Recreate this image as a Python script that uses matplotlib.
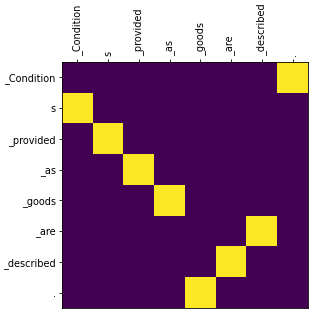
import numpy as np
import matplotlib.pyplot as plt

tokens = ["_Condition", "s", "_provided", "_as", "_goods", "_are", "_described", "."]
# column index of the highlighted cell for each row
hot_cols = [7, 0, 1, 2, 3, 6, 5, 4]

attn = np.zeros((len(tokens), len(tokens)))
for r, c in enumerate(hot_cols):
    attn[r, c] = 1.0

fig = plt.figure(figsize=(3.14, 3.14), dpi=100)
ax = fig.add_axes([62 / 314, 6 / 314, 246 / 314, 246 / 314])
ax.imshow(attn, cmap="viridis", aspect="auto")

ax.set_xticks(range(len(tokens)))
ax.set_yticks(range(len(tokens)))
ax.set_xticklabels(tokens, rotation=90, fontsize=7)
ax.set_yticklabels(tokens, fontsize=7)
ax.xaxis.tick_top()
ax.tick_params(length=2.5, width=0.6, pad=2)
for s in ax.spines.values():
    s.set_linewidth(0.6)

fig.savefig("out.png", dpi=100)
